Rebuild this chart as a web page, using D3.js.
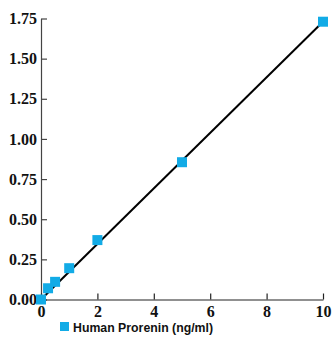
<!DOCTYPE html>
<html>
<head>
<meta charset="utf-8">
<script src="https://cdn.jsdelivr.net/npm/d3@7"></script>
<style>
html,body{margin:0;padding:0;background:#fff;}
svg{display:block;}
</style>
</head>
<body>
<div id="chart"></div>
<script>
const concentrations = [0, 0.25, 0.5, 1, 2, 5, 10];
const absorbance = [0.0, 0.07, 0.11, 0.195, 0.37, 0.855, 1.73];
const fitLine = [[0, 0], [10, 1.73]];
const xTicks = [0, 2, 4, 6, 8, 10];
const yTicks = [0, 0.25, 0.5, 0.75, 1.0, 1.25, 1.5, 1.75];
const seriesName = "Human Prorenin (ng/ml)";

const W = 333, H = 337;
const svg = d3.select("#chart").append("svg").attr("width", W).attr("height", H);

const x = d3.scaleLinear().domain([0, 10]).range([41, 323]);
const y = d3.scaleLinear().domain([0, 1.75]).range([299.5, 18.5]);

// y axis
const yAxis = d3.axisLeft(y).tickValues(yTicks).tickFormat(d3.format(".2f")).tickSizeInner(-6).tickSizeOuter(0).tickPadding(10);
const gy = svg.append("g").attr("transform", `translate(${x(0)},0)`).call(yAxis);
gy.select(".domain").attr("stroke", "#444").attr("stroke-width", 1.2);
gy.selectAll(".tick line").attr("stroke", "#444").attr("stroke-width", 1.2);
gy.selectAll(".tick text").attr("font-family", "'Liberation Serif', serif").attr("font-weight", "bold")
  .attr("font-size", 16).attr("fill", "#111").attr("x", -4);

// x axis
const xAxis = d3.axisBottom(x).tickValues(xTicks).tickFormat(d3.format("d")).tickSizeInner(-6).tickSizeOuter(0).tickPadding(4);
const gx = svg.append("g").attr("transform", `translate(0,${y(0)})`).call(xAxis);
gx.select(".domain").attr("stroke", "#222").attr("stroke-width", 1.2);
gx.selectAll(".tick line").attr("stroke", "#222").attr("stroke-width", 1.2);
gx.selectAll(".tick text").attr("font-family", "'Liberation Serif', serif").attr("font-weight", "bold")
  .attr("font-size", 16).attr("fill", "#111").attr("dy", "0.85em");

// fit line
svg.append("path").datum(fitLine)
  .attr("d", d3.line().x(d => x(d[0])).y(d => y(d[1])))
  .attr("stroke", "#000").attr("stroke-width", 2).attr("fill", "none");

// points
const s = 10;
svg.selectAll("rect.pt").data(concentrations.map((c, i) => [c, absorbance[i]]))
  .enter().append("rect").attr("class", "pt")
  .attr("x", d => x(d[0]) - s / 2).attr("y", d => y(d[1]) - s / 2)
  .attr("width", s).attr("height", s).attr("fill", "#12ABE6");

// legend
svg.append("rect").attr("x", 60).attr("y", 322).attr("width", 9).attr("height", 9).attr("fill", "#12ABE6");
svg.append("text").attr("x", 73).attr("y", 331.5).text(seriesName)
  .attr("font-family", "'Liberation Sans', Arial, sans-serif").attr("font-weight", "bold")
  .attr("font-size", 12.3).attr("fill", "#111");
</script>
</body>
</html>
